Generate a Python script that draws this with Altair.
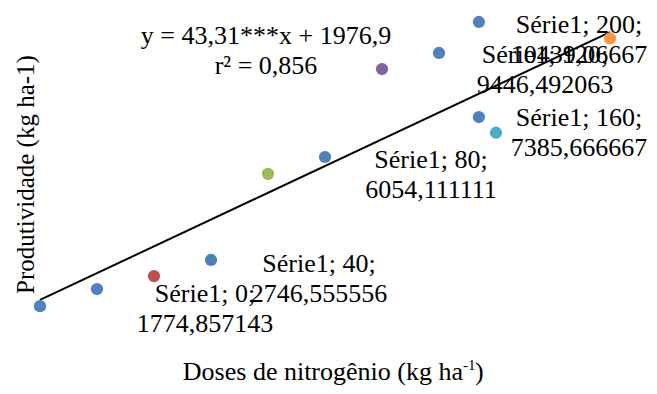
import altair as alt
import pandas as pd

# Labeled series (treatment means)
doses_main = [0, 40, 80, 120, 160, 200]
prod_main = [1774.857143, 2746.555556, 6054.111111, 9446.492063, 7385.666667, 10439.06667]
colors_main = ["#4F81BD", "#C0504D", "#9BBB59", "#8064A2", "#4BACC6", "#F79646"]

# Other (unlabeled) points
doses_extra = [20, 60, 100, 140, 154, 154]
prod_extra = [2329, 3268, 6600, 9965, 10968, 7894]

series_name = "Série1"
eq_text = ["y = 43,31***x + 1976,9", "r² = 0,856"]
x_title_main = "Doses de nitrogênio (kg ha"
x_title_sup = "-1"
x_title_end = ")"
y_title = "Produtividade (kg ha-1)"

FONT = "Liberation Serif"
FS = 26


def fmt(v):
    return format(v, ".10g").replace(".", ",")


main = pd.DataFrame({
    "dose": doses_main,
    "prod": prod_main,
    "cor": [str(i) for i in range(len(doses_main))],
    "label": [[f"{series_name}; {d};", fmt(v)] for d, v in zip(doses_main, prod_main)],
})
extra = pd.DataFrame({"dose": doses_extra, "prod": prod_extra})

xs = alt.X("dose:Q", scale=alt.Scale(domain=[0, 200], nice=False, zero=False),
           axis=alt.Axis(title=None, domain=False, ticks=False, labels=False, grid=False))
ys = alt.Y("prod:Q", scale=alt.Scale(domain=[0, 11000], nice=False, zero=False),
           axis=alt.Axis(title=y_title, domain=False, ticks=False, labels=False, grid=False,
                         titleFont=FONT, titleFontSize=25, titleFontWeight="normal",
                         titleColor="black", titleX=-7, titleY=153, titleAngle=270,
                         titleBaseline="alphabetic", titleAlign="center"))

base_main = alt.Chart(main)

trend = base_main.transform_regression("dose", "prod", extent=[0, 200]).mark_line(
    color="black", strokeWidth=2
).encode(x=xs, y=ys)

pts_extra = alt.Chart(extra).mark_circle(size=150, opacity=1, color="#4F81BD").encode(
    x="dose:Q", y="prod:Q")

pts_main = base_main.mark_circle(size=150, opacity=1).encode(
    x="dose:Q", y="prod:Q",
    color=alt.Color("cor:N", scale=alt.Scale(domain=main["cor"].tolist(), range=colors_main),
                    legend=None))

# label offsets (pixels) relative to each point
offsets = [(165, -12), (165, -12), (163, -14), (163, -14), (83, -15), (-31, -13)]
labels = []
for d, (dx, dy) in zip(doses_main, offsets):
    labels.append(
        base_main.transform_filter(alt.datum.dose == d).mark_text(
            font=FONT, fontSize=FS, color="black", align="center", baseline="middle",
            lineHeight=30, dx=dx, dy=dy
        ).encode(x="dose:Q", y="prod:Q", text="label")
    )

eq = alt.Chart(pd.DataFrame({"t": [eq_text]})).mark_text(
    font=FONT, fontSize=FS, color="black", align="center", baseline="middle", lineHeight=30
).encode(x=alt.value(226), y=alt.value(15), text="t")

# x-axis title with superscript
ttl = pd.DataFrame({"a": [x_title_main], "b": [x_title_sup], "c": [x_title_end]})
t_main = alt.Chart(ttl).mark_text(font=FONT, fontSize=FS, color="black", align="right",
                                  baseline="alphabetic").encode(
    x=alt.value(423), y=alt.value(359), text="a")
t_sup = alt.Chart(ttl).mark_text(font=FONT, fontSize=15, color="black", align="left",
                                 baseline="alphabetic").encode(
    x=alt.value(423), y=alt.value(349), text="b")
t_end = alt.Chart(ttl).mark_text(font=FONT, fontSize=FS, color="black", align="left",
                                 baseline="alphabetic").encode(
    x=alt.value(435), y=alt.value(359), text="c")

chart = alt.layer(trend, pts_extra, pts_main, *labels, eq, t_main, t_sup, t_end).properties(
    width=570, height=340,
    autosize=alt.AutoSizeParams(type="none"),
    padding={"left": 32, "top": 13, "right": 39, "bottom": 25},
).configure_view(stroke=None)

chart.save("out.html", embed_options={"renderer": "svg", "actions": False})
